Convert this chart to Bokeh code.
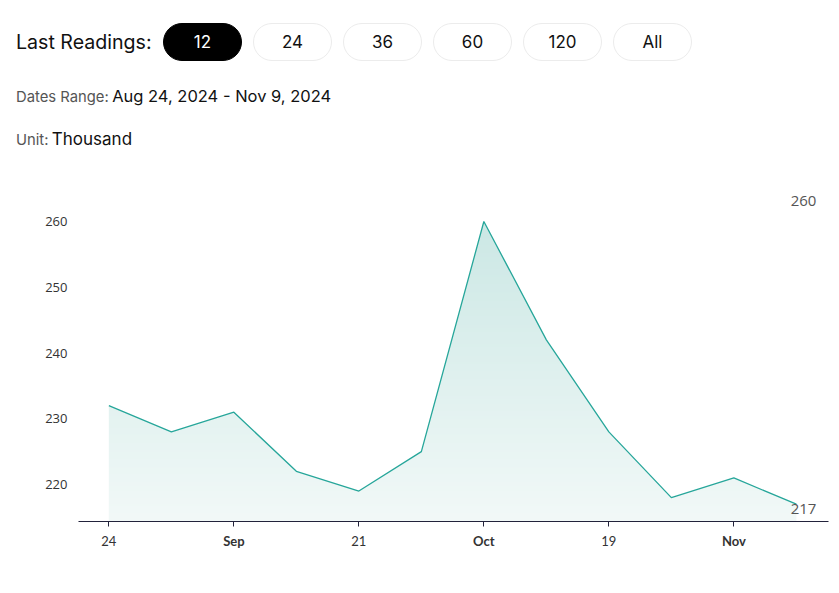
import numpy as np
import pandas as pd
from datetime import timedelta
from bokeh.plotting import figure
from bokeh.models import Div, FixedTicker, Range1d, Label, ColumnDataSource, DatetimeAxis
from bokeh.layouts import column
from bokeh.embed import file_html
from bokeh.resources import INLINE

# ---- data ----
dates = pd.to_datetime([
    "2024-08-24", "2024-08-31", "2024-09-07", "2024-09-14", "2024-09-21", "2024-09-28",
    "2024-10-05", "2024-10-12", "2024-10-19", "2024-10-26", "2024-11-02", "2024-11-09",
])
values = [232, 228, 231, 222, 219, 225, 260, 242, 228, 218, 221, 217]
tick_dates = pd.to_datetime(["2024-08-24", "2024-09-07", "2024-09-21",
                             "2024-10-05", "2024-10-19", "2024-11-02"])
tick_labels = ["24", "Sep", "21", "Oct", "19", "Nov"]
tick_bold = [False, True, False, True, False, True]
y_ticks = [220, 230, 240, 250, 260]
buttons = ["12", "24", "36", "60", "120", "All"]
date_range_text = "Aug 24, 2024 - Nov 9, 2024"
unit_text = "Thousand"

# ---- header ----
btn_html = ""
for i, b in enumerate(buttons):
    left = 163 + i * 90
    if i == 0:
        style = "background:#000;color:#fff;border:1px solid #000;"
    else:
        style = "background:#fff;color:#111;border:1px solid #ececec;"
    btn_html += (f'<div style="position:absolute;left:{left}px;top:23px;width:79px;height:38px;'
                 f'border-radius:19px;{style}box-sizing:border-box;display:flex;align-items:center;'
                 f'justify-content:center;font-size:17px;">{b}</div>')

header_html = f"""
<div style="position:relative;width:839px;height:165px;font-family:Inter, 'Open Sans', sans-serif;">
  <div style="position:absolute;left:16px;top:30px;font-size:19.6px;color:#111;line-height:24px;">Last Readings:</div>
  {btn_html}
  <div style="position:absolute;left:16px;top:84px;line-height:24px;white-space:nowrap;">
    <span style="font-size:14.8px;color:#555;">Dates Range:</span>
    <span style="font-size:16.5px;color:#111;">{date_range_text}</span></div>
  <div style="position:absolute;left:16px;top:127px;line-height:24px;white-space:nowrap;">
    <span style="font-size:14.8px;color:#555;">Unit:</span>
    <span style="font-size:17px;color:#111;">{unit_text}</span></div>
</div>
"""
header = Div(text=header_html, width=839, height=165, margin=(0, 0, 0, 0))

# ---- chart ----
y0, y1 = 214.37, 267.76
x0 = dates[0] - timedelta(days=3.4)
x1 = dates[-1] + timedelta(days=3.6)

p = figure(width=839, height=428, x_axis_type="datetime", output_backend="svg",
           toolbar_location=None, x_range=Range1d(x0, x1), y_range=Range1d(y0, y1),
           min_border_left=78, min_border_right=11, min_border_top=5, min_border_bottom=72,
           margin=(0, 0, 0, 0))
p.outline_line_color = None
p.grid.grid_line_color = None
p.background_fill_color = "white"
p.border_fill_color = "white"

# gradient fill under the curve (image + white mask above the line)
n = 200
top_rgb = np.array([204, 232, 229])
bot_rgb = np.array([242, 249, 248])
t = np.linspace(0, 1, n)[:, None]
cols = (bot_rgb * (1 - t) + top_rgb * t).astype(np.uint8)
img = np.empty((n, 1), dtype=np.uint32)
view = img.view(dtype=np.uint8).reshape((n, 1, 4))
view[:, 0, 0] = cols[:, 0]
view[:, 0, 1] = cols[:, 1]
view[:, 0, 2] = cols[:, 2]
view[:, 0, 3] = 255
span_ms = (dates[-1] - dates[0]).total_seconds() * 1000
p.image_rgba(image=[img], x=dates[0], y=y0, dw=span_ms, dh=max(values) - y0,
             dw_units="data", dh_units="data")

# white mask above the line, extended to the range edges
mask_x = [x0] + list(dates) + [x1]
mask_y = [values[0]] + values + [values[-1]]
p.varea(x=mask_x, y1=mask_y, y2=[y1] * len(mask_x), fill_color="white")

src = ColumnDataSource(dict(x=dates, y=values))
p.line(x="x", y="y", source=src, line_color="#26a69a", line_width=1.3)

# axes
p.yaxis.ticker = FixedTicker(ticks=y_ticks)
p.yaxis.axis_line_color = None
p.yaxis.major_tick_line_color = None
p.yaxis.major_tick_out = 0
p.yaxis.major_tick_in = 0
p.yaxis.minor_tick_line_color = None
p.yaxis.major_label_text_font = "Open Sans"
p.yaxis.major_label_text_font_size = "13px"
p.yaxis.major_label_text_color = "#333333"
p.yaxis.major_label_standoff = 11

tick_ms = [d.value // 10**6 for d in tick_dates]
xa = p.xaxis[0]
xa.ticker = FixedTicker(ticks=tick_ms)
xa.major_label_overrides = {ms: (lab if not b else "") for ms, lab, b in zip(tick_ms, tick_labels, tick_bold)}
xa.axis_line_color = "#22223b"
xa.axis_line_width = 1.2
xa.major_tick_line_color = "#22223b"
xa.major_tick_in = 0
xa.major_tick_out = 5
xa.minor_tick_line_color = None
xa.major_label_text_font = "Lato"
xa.major_label_text_font_size = "13px"
xa.major_label_text_color = "#333333"
xa.major_label_standoff = 9

# second axis carrying the bold month labels, pulled up to the same line
xb = DatetimeAxis(ticker=FixedTicker(ticks=tick_ms))
xb.major_label_overrides = {ms: (lab if b else "") for ms, lab, b in zip(tick_ms, tick_labels, tick_bold)}
xb.axis_line_color = None
xb.major_tick_line_color = None
xb.major_tick_in = 0
xb.major_tick_out = 0
xb.minor_tick_line_color = None
xb.major_label_text_font = "Lato"
xb.major_label_text_font_style = "bold"
xb.major_label_text_font_size = "13px"
xb.major_label_text_color = "#333333"
xb.major_label_standoff = -16
p.add_layout(xb, "below")

# value labels at right
p.add_layout(Label(x=dates[-1], y=max(values), text=str(max(values)), x_offset=20, y_offset=21,
                   text_align="right", text_baseline="middle", text_font="Open Sans",
                   text_font_size="15px", text_color="#555555"))
p.add_layout(Label(x=dates[-1], y=values[-1], text=str(values[-1]), x_offset=20, y_offset=-5,
                   text_align="right", text_baseline="middle", text_font="Open Sans",
                   text_font_size="15px", text_color="#555555"))

layout = column(header, p, spacing=0, margin=(0, 0, 0, 0))
open("out.html", "w").write(file_html(layout, INLINE))
